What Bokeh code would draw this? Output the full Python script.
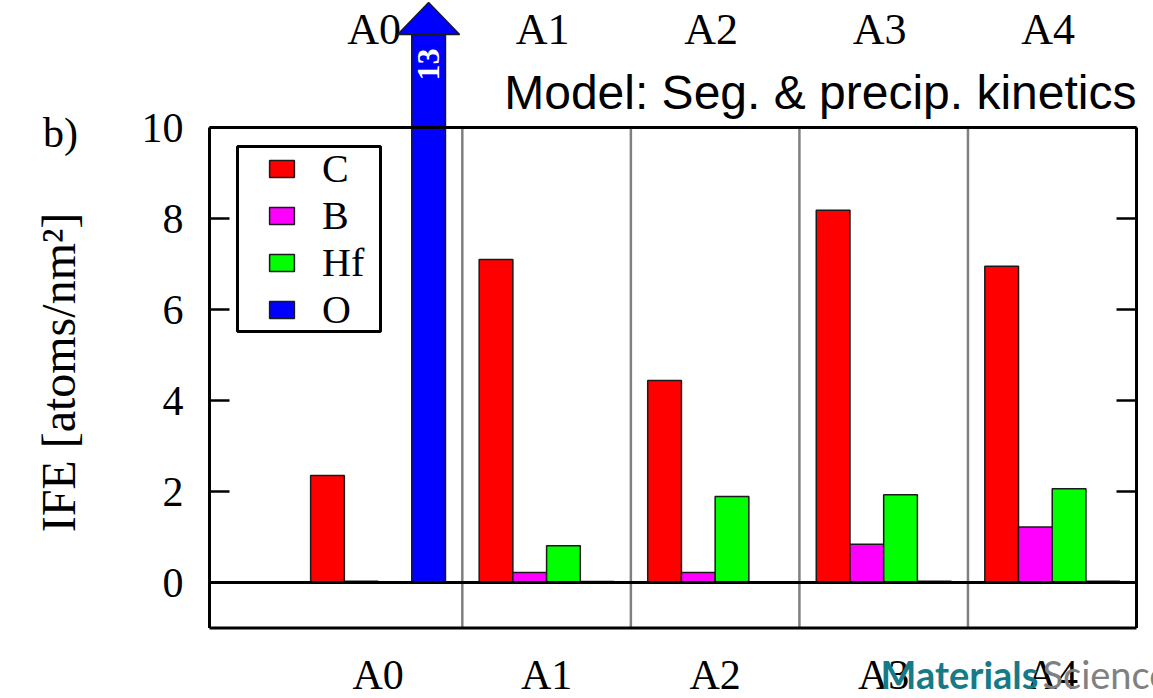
import math

from bokeh.core.properties import value
from bokeh.embed import file_html
from bokeh.models import ColumnDataSource, Legend, LegendItem, Range1d
from bokeh.plotting import figure
from bokeh.resources import INLINE

# ---- data -------------------------------------------------------------
alloys = ["A0", "A1", "A2", "A3", "A4"]
elements = ["C", "B", "Hf", "O"]
ife_C = [2.35, 7.10, 4.44, 8.18, 6.95]
ife_B = [0.03, 0.22, 0.22, 0.84, 1.22]
ife_Hf = [0.0, 0.81, 1.89, 1.93, 2.06]
ife_O = [13.0, 0.02, 0.0, 0.03, 0.03]
y_ticks = [0, 2, 4, 6, 8, 10]

series = [ife_C, ife_B, ife_Hf, ife_O]
colors = ["#ff0000", "#ff00ff", "#00ff00", "#0000ff"]

# ---- layout (pixels of the canvas) ------------------------------------
W, H = 1153, 698
BOX_LEFT, BOX_RIGHT = 209, 1136          # pixel edges of the plot box
X_START, X_END = -1.0, 4.5               # x values at the box edges
Y_MIN, Y_MAX = -1.0, 10.0
Y0_PX, Y10_PX = 582, 127
SX = (BOX_RIGHT - BOX_LEFT) / (X_END - X_START)
SY = (Y0_PX - Y10_PX) / 10.0


def xd(px):
    return X_START + (px - BOX_LEFT) / SX


def yd(py):
    return (Y0_PX - py) / SY


BAR_W = 0.2
TICK_LEN = 20
SERIF = "Liberation Serif"
SANS = "Liberation Sans"

# the frame covers the whole canvas so the arrow and the outer texts
# can be drawn through the same scales as the bars
p = figure(width=W, height=H, x_range=Range1d(xd(0), xd(W)),
           y_range=Range1d(yd(H), yd(0)), x_axis_type=None, y_axis_type=None,
           toolbar_location=None, output_backend="svg",
           min_border_left=0, min_border_right=0,
           min_border_top=0, min_border_bottom=0)
p.outline_line_color = None
p.background_fill_color = "white"
p.border_fill_color = "white"

# ---- group separators ---------------------------------------------------
seps = [i + 0.5 for i in range(len(alloys) - 1)]
p.segment(x0=seps, y0=Y_MIN, x1=seps, y1=Y_MAX, line_color="#808080",
          line_width=2.5)

# ---- y ticks and tick labels (left labelled, right bare) ------------------
n = len(y_ticks)
p.segment(x0=[X_START] * n, y0=y_ticks, x1=[xd(BOX_LEFT + TICK_LEN)] * n,
          y1=y_ticks, line_color="black", line_width=2.5)
p.segment(x0=[xd(BOX_RIGHT - TICK_LEN)] * n, y0=y_ticks, x1=[X_END] * n,
          y1=y_ticks, line_color="black", line_width=2.5)
p.text(x=[xd(183)] * n, y=y_ticks, text=[str(t) for t in y_ticks],
       text_font=value(SERIF), text_font_size="42px", text_align="right",
       text_baseline="middle", text_color="black")

# ---- category labels, below and above the box ---------------------------
xs_cat = list(range(len(alloys)))
p.text(x=xs_cat, y=[yd(674)] * len(alloys), text=alloys,
       text_font=value(SERIF), text_font_size="42px", text_align="center",
       text_baseline="middle", text_color="black")
p.text(x=xs_cat, y=[yd(29)] * len(alloys), text=alloys, x_offset=-4,
       text_font=value(SERIF), text_font_size="44px", text_align="center",
       text_baseline="middle", text_color="black")

# ---- bars -----------------------------------------------------------------
shaft_top = yd(34)      # bars beyond the axis end as an arrow
arrow_tip = yd(2)
head_half = 31 / SX

legend_items = []
for k, (name, vals, col) in enumerate(zip(elements, series, colors)):
    off = (k - 1.5) * BAR_W
    xs = [i + off for i in range(len(vals))]
    tops = [v if v <= Y_MAX else shaft_top for v in vals]
    src = ColumnDataSource(dict(x=xs, top=tops, val=vals))
    r = p.vbar(x="x", top="top", bottom=0, width=BAR_W, source=src,
               fill_color=col, line_color="#1a1a1a", line_width=1.5)
    legend_items.append(LegendItem(label=name, renderers=[r]))
    for xi, v in zip(xs, vals):
        if v > Y_MAX:
            p.patch(x=[xi - head_half, xi + head_half, xi],
                    y=[shaft_top, shaft_top, arrow_tip],
                    fill_color=col, line_color="#1a1a1a", line_width=1.5)
            p.text(x=[xi], y=[yd(64)], text=[f"{v:g}"], angle=math.pi / 2,
                   text_font=value(SERIF), text_font_size="32px",
                   text_font_style="bold", text_color="white",
                   text_align="center", text_baseline="middle")

# ---- box and zero line ----------------------------------------------------
p.segment(x0=[X_START, X_START, X_START], y0=[Y_MIN, Y_MAX, 0],
          x1=[X_END, X_END, X_END], y1=[Y_MIN, Y_MAX, 0],
          line_color="black", line_width=3)
p.segment(x0=[X_START, X_END], y0=[Y_MIN, Y_MIN], x1=[X_START, X_END],
          y1=[Y_MAX, Y_MAX], line_color="black", line_width=3)

# ---- legend (frame drawn as a box, entries by Legend) ---------------------
p.quad(left=[xd(237)], right=[xd(380)], top=[yd(146)], bottom=[yd(331)],
       fill_color="white", line_color="black", line_width=3)
legend = Legend(items=legend_items, location=(266, H - 333),
                border_line_color=None, background_fill_alpha=0.0,
                label_text_font=SERIF, label_text_font_size="40px",
                label_text_color="black", glyph_width=31, glyph_height=21,
                label_standoff=25, padding=0, spacing=-2, margin=0)
p.add_layout(legend)

# ---- titles ------------------------------------------------------------------
p.text(x=[X_END], y=[yd(92)], text=["Model: Seg. & precip. kinetics"],
       text_font=value(SANS), text_font_size="48px", text_align="right",
       text_baseline="middle", text_color="black")
p.text(x=[xd(58)], y=[yd(372)], text=["IFE [atoms/nm\u00b2]"],
       angle=math.pi / 2, text_font=value(SERIF), text_font_size="48px",
       text_align="center", text_baseline="middle", text_color="black")
p.text(x=[xd(60)], y=[yd(132)], text=["b)"], text_font=value(SERIF),
       text_font_size="42px", text_align="center", text_baseline="middle",
       text_color="black")

# ---- publisher mark ----------------------------------------------------------
p.text(x=[xd(880)], y=[yd(673)], text=["Materials"], text_font=value("Lato"),
       text_font_size="38px", text_font_style="bold", text_align="left",
       text_baseline="middle", text_color="#167b87")
p.text(x=[xd(1042)], y=[yd(673)], text=["Science"], text_font=value("Lato"),
       text_font_size="38px", text_align="left", text_baseline="middle",
       text_color="#808080")

open("out.html", "w").write(file_html(p, INLINE))
